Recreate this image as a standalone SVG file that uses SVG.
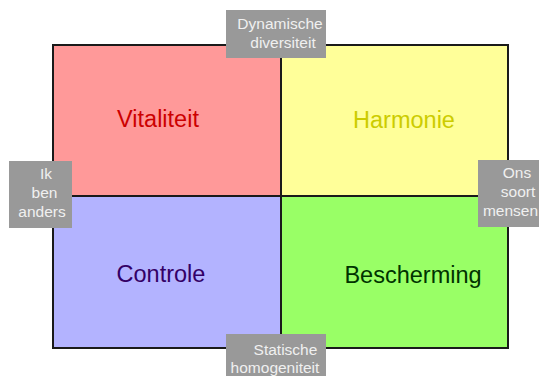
<svg xmlns="http://www.w3.org/2000/svg" width="539" height="376" viewBox="0 0 539 376">
  <style>
    .quad { stroke: #1a1a1a; stroke-width: 2; }
    .qlabel { font-family: "Liberation Sans", Arial, sans-serif; font-size: 23.5px; text-anchor: middle; }
    .tag { fill: #999999; }
    .tagtext { font-family: "Liberation Sans", Arial, sans-serif; font-size: 15.5px; fill: #f0f0f0; text-anchor: middle; }
  </style>
  <rect width="539" height="376" fill="#ffffff"/>

  <g id="vitaliteit">
    <rect class="quad" x="53" y="45" width="228" height="151" fill="#ff9999"/>
    <text class="qlabel" x="158" y="127" fill="#cc0000">Vitaliteit</text>
  </g>
  <g id="harmonie">
    <rect class="quad" x="281" y="45" width="227" height="151" fill="#ffff99"/>
    <text class="qlabel" x="404" y="128" fill="#cccc00">Harmonie</text>
  </g>
  <g id="controle">
    <rect class="quad" x="53" y="196" width="228" height="152" fill="#b3b3ff"/>
    <text class="qlabel" x="161" y="282" fill="#330066">Controle</text>
  </g>
  <g id="bescherming">
    <rect class="quad" x="281" y="196" width="227" height="152" fill="#99ff66"/>
    <text class="qlabel" x="413" y="283" fill="#003300">Bescherming</text>
  </g>

  <g id="dynamische-diversiteit">
    <rect class="tag" x="226" y="10" width="100" height="48"/>
    <text class="tagtext" x="280" y="29">Dynamische</text>
    <text class="tagtext" x="283" y="48">diversiteit</text>
  </g>
  <g id="ik-ben-anders">
    <rect class="tag" x="9" y="161" width="63" height="67"/>
    <text class="tagtext" x="46" y="179">Ik</text>
    <text class="tagtext" x="44.5" y="198">ben</text>
    <text class="tagtext" x="42" y="217">anders</text>
  </g>
  <g id="ons-soort-mensen">
    <rect class="tag" x="478" y="160" width="70" height="67"/>
    <text class="tagtext" x="517" y="178">Ons</text>
    <text class="tagtext" x="518" y="197">soort</text>
    <text class="tagtext" x="510.5" y="216">mensen</text>
  </g>
  <g id="statische-homogeniteit">
    <rect class="tag" x="226" y="334" width="100" height="48"/>
    <text class="tagtext" x="285.5" y="355">Statische</text>
    <text class="tagtext" x="275" y="373">homogeniteit</text>
  </g>
</svg>
